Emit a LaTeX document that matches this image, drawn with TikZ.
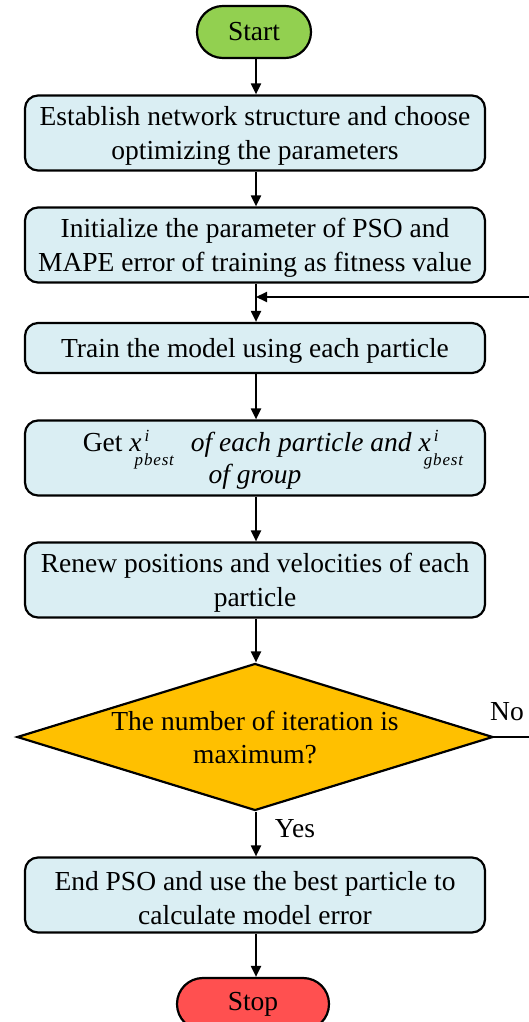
\documentclass[tikz,border=0pt]{standalone}
\usepackage{fontspec}
\setmainfont{Liberation Serif}
\usetikzlibrary{shapes.geometric,arrows.meta}
\definecolor{boxblue}{HTML}{DAEEF3}
\definecolor{startgreen}{HTML}{92D050}
\definecolor{stopred}{HTML}{FF5050}
\definecolor{decgold}{HTML}{FFC000}
% small italic used for indices
\newcommand{\idxfont}{\fontsize{17}{17}\selectfont\itshape}
% italic variable with stacked superscript i and a spaced subscript
\newcommand{\pvar}[1]{\textit{x}\rlap{\kern3pt\smash{\raisebox{9.5pt}{\idxfont i}}}\kern-7pt\smash{\raisebox{-14pt}{\idxfont\addfontfeature{LetterSpace=5}#1}}}
% invisible strut that sets the text a little lower in the boxes
\newcommand{\topstrut}{\rule{0pt}{24.8pt}}
\begin{document}
\begin{tikzpicture}[x=1pt,y=-1pt,
  every node/.style={font=\fontsize{27.5}{33.5}\selectfont},
  process/.style={draw, line width=2.2pt, rounded corners=13pt, fill=boxblue,
    minimum width=460pt, minimum height=75pt, align=center, inner sep=0pt},
  terminal/.style={draw, line width=2.2pt, rounded corners=25.9pt,
    minimum height=52pt, inner sep=0pt},
  decision/.style={draw, diamond, line width=2.2pt, fill=decgold,
    minimum width=476pt, minimum height=147pt, inner sep=0pt},
  flow/.style={line width=2pt, -{Triangle[length=11pt,width=10pt]}},
  label/.style={inner sep=0pt}]
\useasboundingbox (0,0) rectangle (529,1022);

\node[terminal, fill=startgreen, minimum width=114pt] (start) at (254,32) {Start};
\node[process] (p1) at (255,133) {\topstrut Establish network structure and choose\\optimizing the parameters};
\node[process] (p2) at (255,245) {\topstrut Initialize the parameter of PSO and\\MAPE error of training as fitness value};
\node[process, minimum height=50pt] (p3) at (255,348) {\topstrut Train the model using each particle};
\node[process] (p4) at (255,458) {\topstrut\hspace*{36pt}Get \pvar{pbest}\kern17pt\textit{of each particle and} \pvar{gbest}\\[-1pt]\textit{of group}};
\node[process] (p5) at (255,580) {\topstrut Renew positions and velocities of each\\particle};
\node[decision] (dec) at (255,737) {};
\node[label, align=center] at (dec.center) {\rule{0pt}{20.8pt}The number of iteration is\\maximum?};
\node[process] (p6) at (255,895) {\topstrut End PSO and use the best particle to\\calculate model error};
\node[terminal, fill=stopred, minimum width=152pt] (stop) at (253,1004) {Stop};

\coordinate (fb) at (256,297);
\coordinate (rt) at (540,737);

\draw[flow] (start.south -| 256,0) -- (p1.north -| 256,0);
\draw[flow] (p1.south -| 256,0) -- (p2.north -| 256,0);
\draw[flow] (p2.south -| 256,0) -- (p3.north -| 256,0);
\draw[flow] (p3.south -| 256,0) -- (p4.north -| 256,0);
\draw[flow] (p4.south -| 256,0) -- (p5.north -| 256,0);
\draw[flow] (p5.south -| 256,0) -- (dec.north -| 256,0);
\draw[flow] (dec.south -| 256,0) -- (p6.north -| 256,0);
\draw[flow] (p6.south -| 256,0) -- (stop.north -| 256,0);
\draw[flow] (dec.east) -- (rt) |- (fb);

\node[label] at (507,712) {No};
\node[label] at (295,829) {Yes};
\end{tikzpicture}
\end{document}
